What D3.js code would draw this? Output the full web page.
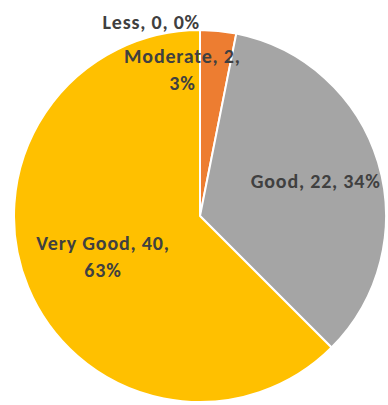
<!DOCTYPE html>
<html>
<head>
<meta charset="utf-8">
<script src="https://cdn.jsdelivr.net/npm/d3@7"></script>
<style>
  html, body { margin: 0; padding: 0; background: #fff; }
  svg { display: block; }
  .lbl { font-family: Calibri, Carlito, Lato, "Open Sans", sans-serif; font-weight: bold; fill: #404040; letter-spacing: 0.8px; }
</style>
</head>
<body>
<svg id="chart" width="388" height="405"></svg>
<script>
// Survey ratings
const categories = ["Less", "Moderate", "Good", "Very Good"];
const counts = [0, 2, 22, 40];
const percentLabels = ["0%", "3%", "34%", "63%"];
const colors = ["#5B9BD5", "#ED7D31", "#A5A5A5", "#FFC000"];

const width = 388, height = 405;
const cx = 200, cy = 216, R = 186;

const svg = d3.select("#chart");
const g = svg.append("g").attr("transform", `translate(${cx},${cy})`);

const pie = d3.pie().sort(null).value(d => d.value);
const data = categories.map((c, i) => ({ name: c, value: counts[i], pct: percentLabels[i], color: colors[i] }));
const arcs = pie(data);

const arc = d3.arc().innerRadius(0).outerRadius(R);

g.selectAll("path.slice")
  .data(arcs)
  .join("path")
  .attr("class", "slice")
  .attr("d", arc)
  .attr("fill", d => d.data.color)
  .attr("stroke", "#fff")
  .attr("stroke-width", 2)
  .attr("stroke-linejoin", "round");

// Label placement: radius factor, horizontal nudge, anchor and line breaks
const labelLayout = {
  "Less":      { r: 1.045, dx: 0,   anchor: "end",    lines: d => [`${d.name}, ${d.value}, ${d.pct}`] },
  "Moderate":  { r: 0.79,  dx: -32, anchor: "middle", lines: d => [`${d.name}, ${d.value},`, d.pct] },
  "Good":      { r: 0.65,  dx: 0,   anchor: "middle", lines: d => [`${d.name}, ${d.value}, ${d.pct}`] },
  "Very Good": { r: 0.565, dx: 0,   anchor: "middle", lines: d => [`${d.name}, ${d.value},`, d.pct] }
};

const fontSize = 20, lineH = 27;

arcs.forEach(a => {
  const L = labelLayout[a.data.name];
  const mid = (a.startAngle + a.endAngle) / 2;
  const rr = L.r * R;
  const x = Math.sin(mid) * rr + L.dx;
  const y = -Math.cos(mid) * rr;
  const lines = L.lines(a.data);
  const t = g.append("text")
    .attr("class", "lbl")
    .attr("font-size", fontSize)
    .attr("text-anchor", L.anchor)
    .attr("x", x)
    .attr("y", y - (lines.length - 1) * lineH / 2);
  lines.forEach((s, i) => {
    t.append("tspan")
      .attr("x", x)
      .attr("dy", i === 0 ? "0.35em" : lineH)
      .text(s);
  });
});
</script>
</body>
</html>
